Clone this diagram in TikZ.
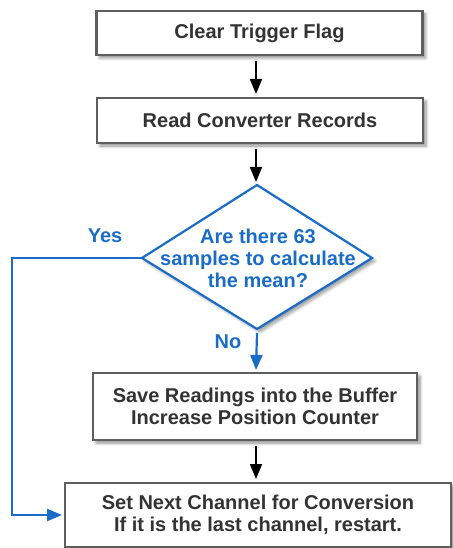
\documentclass[tikz,border=0pt]{standalone}
\usepackage{fontspec}
\setmainfont{Liberation Sans}
\usetikzlibrary{arrows.meta,shadows.blur,calc}
\definecolor{boxline}{HTML}{5E5E5E}
\definecolor{boxtext}{HTML}{333333}
\definecolor{flowblue}{HTML}{1A6CC9}
\tikzset{
  bigfont/.style={font=\bfseries\fontsize{20}{22}\selectfont},
  stepbox/.style={draw=boxline, line width=2.2pt, fill=white, text=boxtext,
    bigfont, align=center, inner sep=0pt,
    blur shadow={shadow xshift=3pt, shadow yshift=-3pt, shadow blur steps=6, shadow blur radius=3pt, shadow opacity=45}},
  flow/.style={draw=black, line width=1.8pt, -{Triangle[length=15pt,width=12pt]}},
  blueflow/.style={draw=flowblue, line width=2.2pt, -{Triangle[length=15pt,width=12pt]}},
  lbl/.style={text=flowblue, bigfont}
}
\begin{document}
\begin{tikzpicture}[x=1pt, y=-1pt]
\useasboundingbox (0,0) rectangle (452,548);
% process boxes
\node[stepbox, minimum width=326pt, minimum height=44pt] (clear) at (259.5,33) {Clear Trigger Flag};
\node[stepbox, minimum width=326pt, minimum height=45pt] (read) at (260,120.5) {Read Converter Records};
% decision diamond drawn as a polygon
\coordinate (dtop) at (257,185);
\coordinate (dright) at (372,258);
\coordinate (dbot) at (257,329);
\coordinate (dleft) at (142,258);
\path[blur shadow={shadow xshift=3pt, shadow yshift=-3pt, shadow blur steps=6, shadow blur radius=3pt, shadow opacity=40}]
  (dtop) -- (dright) -- (dbot) -- (dleft) -- cycle;
\draw[draw=flowblue, line width=2.2pt, fill=white, line join=miter] (dtop) -- (dright) -- (dbot) -- (dleft) -- cycle;
\node[text=flowblue, bigfont, align=center] (q) at (258,258) {Are there 63\\samples to calculate\\the mean?};
\node[stepbox, minimum width=324pt, minimum height=67pt] (save) at (255,406.5) {Save Readings into the Buffer\\Increase Position Counter};
\node[stepbox, minimum width=386pt, minimum height=64pt] (next) at (258,515) {Set Next Channel for Conversion\\If it is the last channel, restart.};
% labels
\node[lbl] (yes) at (105,236) {Yes};
\node[lbl] (no) at (228,342) {No};
% connectors
\draw[flow] (clear.south -| 256,0) ++(0,5) -- (256,94);
\draw[flow] (read.south -| 256,0) ++(0,5) -- (256,182);
\draw[blueflow] (dbot) ++(0,4) -- (256,370);
\draw[flow] (save.south -| 256,0) ++(0,5) -- (256,479);
\draw[blueflow] (dleft) -- (12,258) -- (12,515) -- (62,515);
\end{tikzpicture}
\end{document}
